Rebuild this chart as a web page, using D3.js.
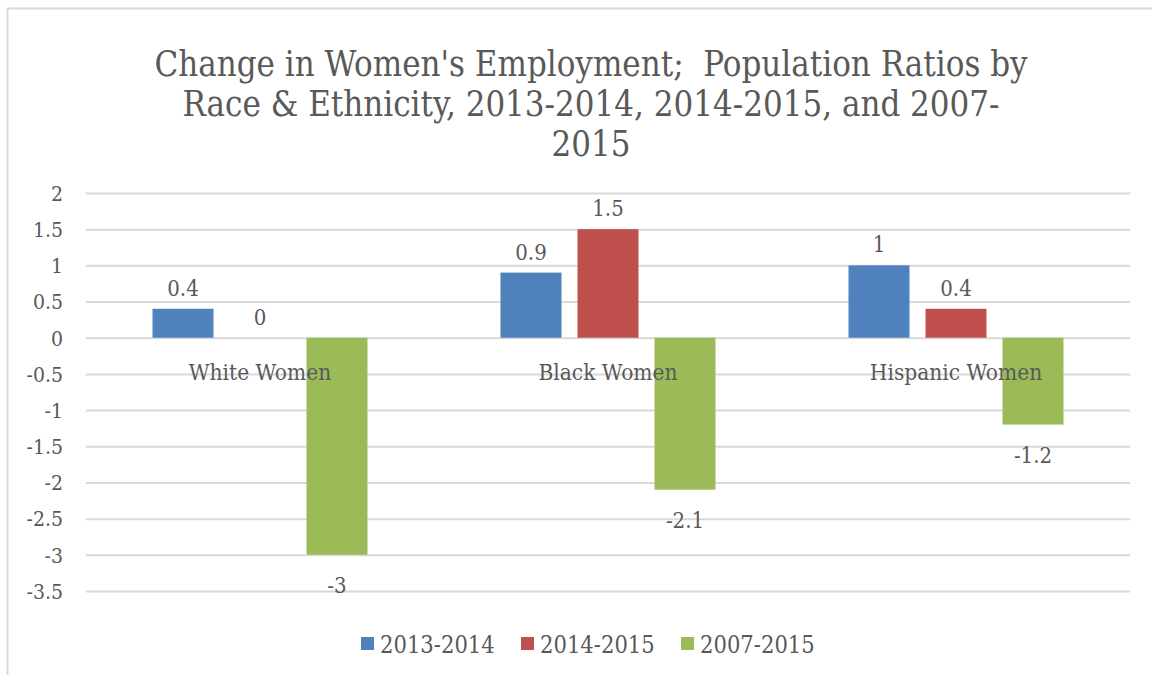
<!DOCTYPE html>
<html><head><meta charset="utf-8">
<script src="https://cdn.jsdelivr.net/npm/d3@7"></script>
<style>
html,body{margin:0;padding:0;background:#fff;}
text{font-family:"DejaVu Serif Condensed","DejaVu Serif",serif;fill:#595959;}
</style></head>
<body><svg id="chart" width="1152" height="675"></svg>
<script>
const categories = ["White Women", "Black Women", "Hispanic Women"];
const seriesNames = ["2013-2014", "2014-2015", "2007-2015"];
const values2013_2014 = [0.4, 0.9, 1];
const values2014_2015 = [0, 1.5, 0.4];
const values2007_2015 = [-3, -2.1, -1.2];
const tickValues = [2, 1.5, 1, 0.5, 0, -0.5, -1, -1.5, -2, -2.5, -3, -3.5];
const titleLines = ["Change in Women's Employment;  Population Ratios by",
                    "Race & Ethnicity, 2013-2014, 2014-2015, and 2007-",
                    "2015"];
const colors = ["#4F81BD", "#C0504D", "#9BBB59"];

const seriesValues = [values2013_2014, values2014_2015, values2007_2015];
const svg = d3.select("#chart");
const fontFam = '"DejaVu Serif Condensed","DejaVu Serif",serif';

// chart border
svg.append("rect").attr("x", 7.5).attr("y", 8.5).attr("width", 1170).attr("height", 690)
  .attr("fill", "#fff").attr("stroke", "#D9D9D9").attr("stroke-width", 2);

// title
const title = svg.append("text").attr("text-anchor", "middle").style("font-size", "34.5px")
  .style("white-space", "pre").attr("xml:space", "preserve");
titleLines.forEach((l, i) => {
  title.append("tspan").attr("x", 591).attr("y", 76 + i * 40).text(l);
});

const plotLeft = 86, plotRight = 1130;
const y = d3.scaleLinear().domain([-3.5, 2]).range([591, 193]);
const x0 = d3.scaleBand().domain(categories).range([plotLeft, plotRight]).paddingInner(0).paddingOuter(0);
const groupWidth = 215;
const x1 = d3.scaleBand().domain(seriesNames).range([0, groupWidth]).paddingInner(16 / 77).paddingOuter(0);
const groupOffset = (x0.bandwidth() - groupWidth) / 2;
const fmt = v => d3.format("")(v).replace("−", "-");

// gridlines via axis
const yAxis = d3.axisLeft(y).tickValues(tickValues).tickSize(-(plotRight - plotLeft)).tickFormat(fmt);
const gAxis = svg.append("g").attr("transform", `translate(${plotLeft},0)`).call(yAxis);
gAxis.select(".domain").remove();
gAxis.selectAll(".tick line").attr("stroke", "#D9D9D9").attr("stroke-width", 2);
gAxis.selectAll(".tick text").attr("x", -23).attr("dy", "0.35em")
  .style("font-size", "21px").attr("fill", "#595959").style("font-family", fontFam);

// bars
const groups = svg.append("g").selectAll("g").data(categories).join("g")
  .attr("transform", d => `translate(${x0(d) + groupOffset},0)`);
groups.each(function(cat, ci) {
  const g = d3.select(this);
  seriesNames.forEach((s, si) => {
    const v = seriesValues[si][ci];
    g.append("rect")
      .attr("x", x1(s)).attr("width", x1.bandwidth())
      .attr("y", y(Math.max(0, v))).attr("height", Math.abs(y(v) - y(0)))
      .attr("fill", colors[si]);
  });
});

// category labels
svg.append("g").selectAll("text").data(categories).join("text")
  .attr("x", d => x0(d) + x0.bandwidth() / 2).attr("y", 380)
  .attr("text-anchor", "middle").style("font-size", "22.5px").text(d => d);

// data labels
groups.each(function(cat, ci) {
  const g = d3.select(this);
  seriesNames.forEach((s, si) => {
    const v = seriesValues[si][ci];
    g.append("text")
      .attr("x", x1(s) + x1.bandwidth() / 2)
      .attr("y", v >= 0 ? y(v) - 13 : y(v) + 38)
      .attr("text-anchor", "middle").style("font-size", "22px")
      .text(fmt(v));
  });
});

// legend
const legendX = [361, 521, 681];
const legend = svg.append("g").selectAll("g").data(seriesNames).join("g")
  .attr("transform", (d, i) => `translate(${legendX[i]},0)`);
legend.append("rect").attr("x", 0).attr("y", 637).attr("width", 13).attr("height", 13).attr("fill", (d, i) => colors[i]);
legend.append("text").attr("x", 19).attr("y", 653).style("font-size", "23.5px").text(d => d);
</script></body></html>
